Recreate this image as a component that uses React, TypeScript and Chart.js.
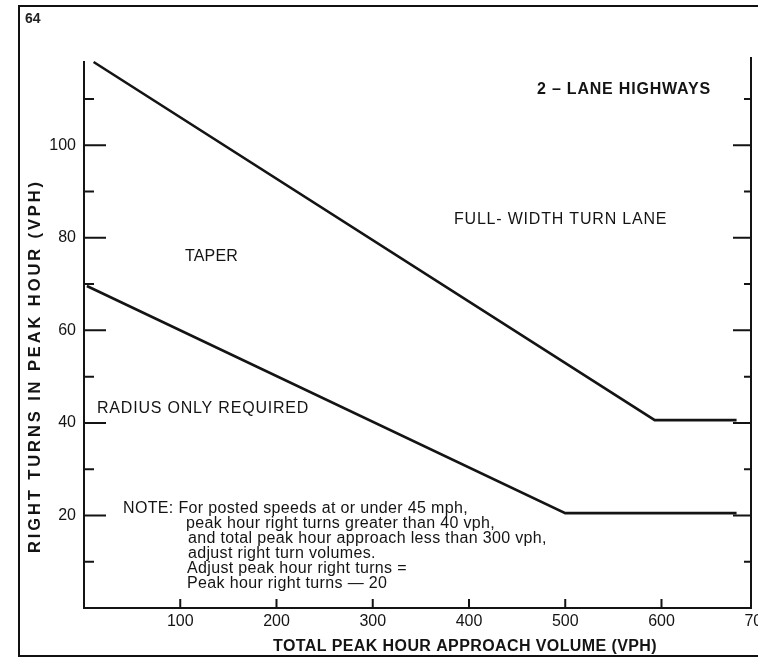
import React, { useEffect, useRef } from "react";
import { Chart, registerables } from "chart.js";

Chart.register(...registerables);

// ---- Data ----
const X_MIN = 0;
const X_MAX = 693;
const Y_MIN = 0;
const Y_MAX = 118;

const xTickLabels = [100, 200, 300, 400, 500, 600, 700];
const yTickLabels = [20, 40, 60, 80, 100];
const yMinorTicks = [10, 30, 50, 70, 90, 110];

// Upper boundary: full-width turn lane
const fullWidthX = [10, 593, 678];
const fullWidthY = [118, 40.6, 40.6];
// Lower boundary: radius only required
const radiusX = [3, 500, 678];
const radiusY = [69.6, 20.5, 20.5];

const pageNumber = "64";
const regionLabels = ["2 – LANE HIGHWAYS", "FULL- WIDTH TURN LANE", "TAPER", "RADIUS ONLY REQUIRED"];
const noteLines = [
  "NOTE: For posted speeds at or under 45 mph,",
  "peak hour right turns greater than 40 vph,",
  "and total peak hour approach less than 300 vph,",
  "adjust right turn volumes.",
  "Adjust peak hour right turns =",
  "Peak hour right turns — 20",
];
const xTitle = "TOTAL PEAK HOUR APPROACH VOLUME (VPH)";
const yTitle = "RIGHT TURNS IN PEAK HOUR (VPH)";

// ---- Styles / placement (kept apart from the data) ----
const FONT = "'Liberation Sans', Arial, Helvetica, sans-serif";
const INK = "#141414";

// annotation anchors in data coordinates (x value, baseline y value)
const regionLabelPos = [
  { x: 470.6, y: 111.0, font: `bold 16px ${FONT}`, spacing: 0.8 },
  { x: 384.4, y: 82.9, font: `16px ${FONT}`, spacing: 0.8 },
  { x: 104.9, y: 75.1, font: `16px ${FONT}`, spacing: 0.2 },
  { x: 13.5, y: 42.1, font: `16px ${FONT}`, spacing: 0.8 },
];
const noteIndentX = [40.5, 106, 108, 108, 107, 107];
const noteFirstBaseline = 20.5;
const noteLineHeightPx = 15;

function toPoints(xs: number[], ys: number[]) {
  return xs.map((x, i) => ({ x, y: ys[i] }));
}

const decorPlugin = {
  id: "decor",
  afterDraw(chart: any) {
    const { ctx, chartArea, scales } = chart;
    const xs = scales.x;
    const ys = scales.y;
    const px = (v: number) => xs.getPixelForValue(v);
    const py = (v: number) => ys.getPixelForValue(v);
    const { left, right, top, bottom } = chartArea;

    ctx.save();
    // outer frame
    ctx.strokeStyle = "#111";
    ctx.lineWidth = 2;
    ctx.strokeRect(19, 6, 790, 650);

    // tick marks (inside the plot)
    ctx.strokeStyle = INK;
    ctx.lineWidth = 2;
    ctx.beginPath();
    yTickLabels.forEach((v) => {
      const y = py(v);
      ctx.moveTo(left, y);
      ctx.lineTo(left + 22, y);
      ctx.moveTo(right, y);
      ctx.lineTo(right - 18, y);
    });
    yMinorTicks.forEach((v) => {
      const y = py(v);
      ctx.moveTo(left, y);
      ctx.lineTo(left + 10, y);
      ctx.moveTo(right, y);
      ctx.lineTo(right - 7, y);
    });
    xTickLabels.forEach((v) => {
      if (v >= X_MAX) return;
      const x = px(v);
      ctx.moveTo(x, bottom);
      ctx.lineTo(x, bottom - 9);
    });
    ctx.moveTo(right, top);
    ctx.lineTo(right, top - 5);
    ctx.stroke();

    // tick label beyond the axis end (700), clipped by the page edge
    ctx.fillStyle = INK;
    ctx.font = `16px ${FONT}`;
    ctx.textAlign = "center";
    ctx.textBaseline = "middle";
    xTickLabels.forEach((v) => {
      if (v > X_MAX) ctx.fillText(String(v), px(v), bottom + 4 + 9.6);
    });

    // page number
    ctx.textAlign = "left";
    ctx.textBaseline = "alphabetic";
    ctx.font = `bold 14px ${FONT}`;
    ctx.fillStyle = "#222";
    ctx.fillText(pageNumber, 25, 23);

    ctx.fillStyle = INK;
    // region labels
    regionLabels.forEach((t, i) => {
      const p = regionLabelPos[i];
      ctx.font = p.font;
      (ctx as any).letterSpacing = `${p.spacing}px`;
      ctx.fillText(t, px(p.x), py(p.y));
    });

    // note
    ctx.font = `16px ${FONT}`;
    (ctx as any).letterSpacing = "0.35px";
    const base = py(noteFirstBaseline);
    noteLines.forEach((t, i) => {
      ctx.fillText(t, px(noteIndentX[i]), base + i * noteLineHeightPx);
    });

    // axis titles
    ctx.font = `bold 16px ${FONT}`;
    (ctx as any).letterSpacing = "0.4px";
    ctx.fillText(xTitle, 273, 651);

    ctx.font = `bold 16.5px ${FONT}`;
    (ctx as any).letterSpacing = "2.9px";
    ctx.translate(34, 553);
    ctx.rotate(-Math.PI / 2);
    ctx.fillText(yTitle, 0, 5.9);
    ctx.restore();
  },
};

export default function App() {
  const ref = useRef<HTMLCanvasElement | null>(null);

  useEffect(() => {
    if (!ref.current) return;
    const tickFont = { family: FONT, size: 16 };
    const chart = new Chart(ref.current, {
      type: "line",
      data: {
        datasets: [
          {
            label: "Full-width turn lane boundary",
            data: toPoints(fullWidthX, fullWidthY),
            borderColor: INK,
            borderWidth: 2.6,
            pointRadius: 0,
            tension: 0,
            fill: false,
            clip: false as any,
          },
          {
            label: "Radius only boundary",
            data: toPoints(radiusX, radiusY),
            borderColor: INK,
            borderWidth: 2.6,
            pointRadius: 0,
            tension: 0,
            fill: false,
            clip: false as any,
          },
        ],
      },
      options: {
        animation: false,
        responsive: false,
        devicePixelRatio: 1,
        layout: { padding: { top: 62, left: 0, right: 0, bottom: 0 } },
        plugins: {
          legend: { display: false },
          tooltip: { enabled: false },
        },
        scales: {
          x: {
            type: "linear",
            position: "bottom",
            min: X_MIN,
            max: X_MAX,
            grid: { display: false, drawTicks: false },
            border: { display: true, color: INK, width: 2 },
            afterBuildTicks: (scale: any) => {
              scale.ticks = xTickLabels.filter((v) => v <= X_MAX).map((v) => ({ value: v }));
            },
            afterFit: (scale: any) => {
              scale.height = 52;
            },
            ticks: {
              autoSkip: false,
              maxRotation: 0,
              padding: 4,
              color: INK,
              font: tickFont,
            },
          },
          y: {
            type: "linear",
            position: "left",
            min: Y_MIN,
            max: Y_MAX,
            grid: { display: false, drawTicks: false },
            border: { display: true, color: INK, width: 2 },
            afterBuildTicks: (scale: any) => {
              scale.ticks = yTickLabels.map((v) => ({ value: v }));
            },
            afterFit: (scale: any) => {
              scale.width = 84;
            },
            ticks: {
              autoSkip: false,
              padding: 8,
              color: INK,
              font: tickFont,
            },
          },
          y2: {
            type: "linear",
            position: "right",
            min: Y_MIN,
            max: Y_MAX,
            grid: { display: false, drawTicks: false },
            border: { display: true, color: INK, width: 2 },
            ticks: { display: false },
            afterFit: (scale: any) => {
              scale.width = 7;
            },
          },
        },
      } as any,
      plugins: [decorPlugin],
    });
    return () => chart.destroy();
  }, []);

  return (
    <div style={{ position: "absolute", left: 0, top: 0, width: 758, height: 660, background: "#fff" }}>
      <canvas ref={ref} width={758} height={660} style={{ display: "block" }} />
    </div>
  );
}
